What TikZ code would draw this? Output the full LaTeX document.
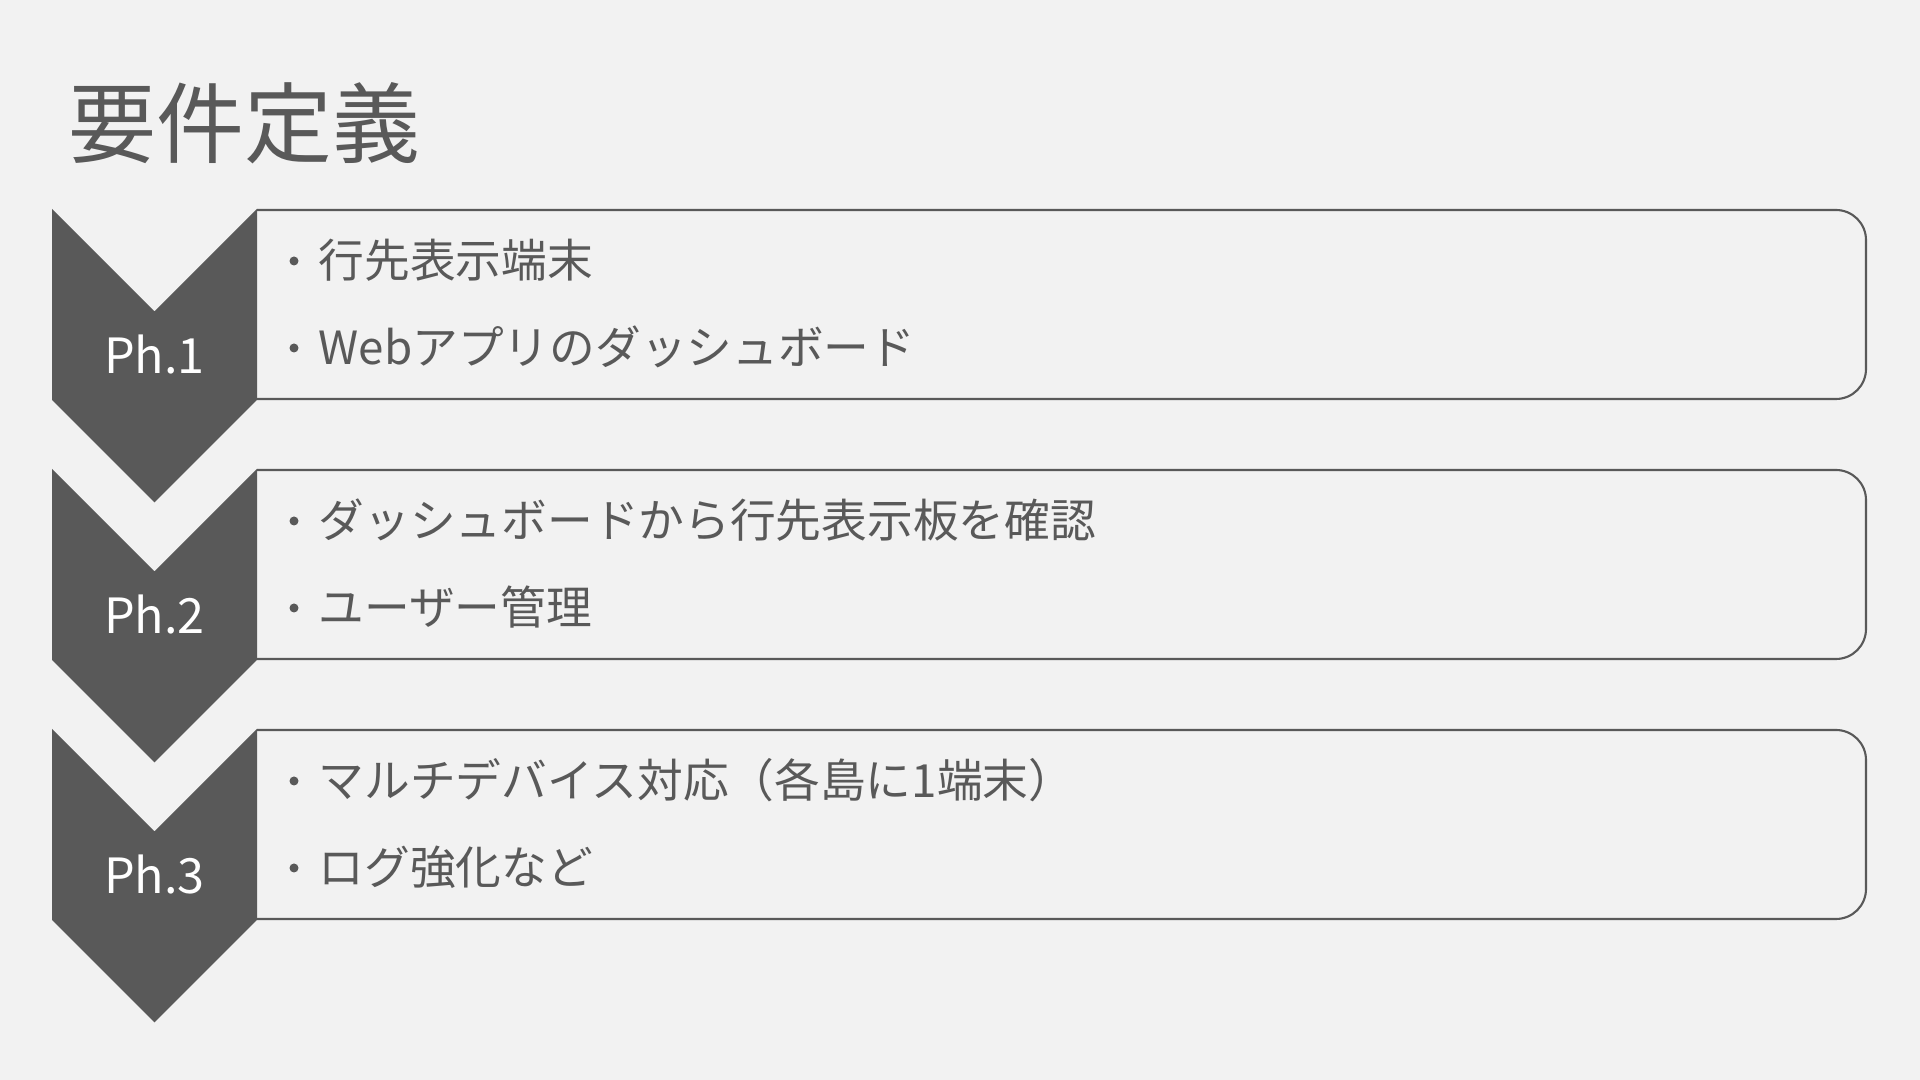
\documentclass[tikz,border=0pt]{standalone}
\usepackage{fontspec}
\setmainfont{Noto Sans CJK JP}
\definecolor{ink}{HTML}{595959}
\definecolor{paper}{HTML}{F2F2F2}

\begin{document}
\begin{tikzpicture}[x=0.01cm, y=-0.01cm,
    chev/.style={fill=ink, draw=none},
    pbox/.style={draw=ink, line width=0.6pt, rounded corners=0.3cm},
    phtxt/.style={anchor=base, text=white, font=\fontsize{13.8pt}{16pt}\selectfont, inner sep=0pt},
    itm/.style={anchor=west, text=ink, inner sep=0pt, text height=0.88em, text depth=0.12em,
      font=\fontsize{13pt}{15pt}\selectfont},
    dot/.style={fill=ink}]
      \fill[paper] (0,0) rectangle (1920,1080);
      \useasboundingbox (0,0) rectangle (1920,1080);

      \node[anchor=west, text=ink, inner sep=0pt, text height=0.88em, text depth=0.12em,
        font=\fontsize{25pt}{28pt}\selectfont] (title) at (68,143) {要件定義};

      % Ph.1
      \draw[pbox] (257,210) -- (1866,210) -- (1866,399) -- (257,399);
      \path[chev] (52,209) -- (154.5,311.5) -- (257,209) -- (257,400) -- (154.5,502.5) -- (52,400) -- cycle;
      \node[phtxt] (ph1) at (154.5,374) {Ph.1};
      \fill[dot] (294,261) circle (4.5);
      \fill[dot] (294,348) circle (4.5);
      \node[itm] (t11) at (318,264) {行先表示端末};
      \node[itm] (t12) at (318,351) {Webアプリのダッシュボード};

      % Ph.2
      \draw[pbox] (257,470) -- (1866,470) -- (1866,659) -- (257,659);
      \path[chev] (52,469) -- (154.5,571.5) -- (257,469) -- (257,660) -- (154.5,762.5) -- (52,660) -- cycle;
      \node[phtxt] (ph2) at (154.5,634) {Ph.2};
      \fill[dot] (294,521) circle (4.5);
      \fill[dot] (294,608) circle (4.5);
      \node[itm] (t21) at (318,524) {ダッシュボードから行先表示板を確認};
      \node[itm] (t22) at (318,611) {ユーザー管理};

      % Ph.3
      \draw[pbox] (257,730) -- (1866,730) -- (1866,919) -- (257,919);
      \path[chev] (52,729) -- (154.5,831.5) -- (257,729) -- (257,920) -- (154.5,1022.5) -- (52,920) -- cycle;
      \node[phtxt] (ph3) at (154.5,894) {Ph.3};
      \fill[dot] (294,781) circle (4.5);
      \fill[dot] (294,868) circle (4.5);
      \node[itm] (t31) at (318,784) {マルチデバイス対応（各島に1端末）};
      \node[itm] (t32) at (318,871) {ログ強化など};
\end{tikzpicture}
\end{document}
